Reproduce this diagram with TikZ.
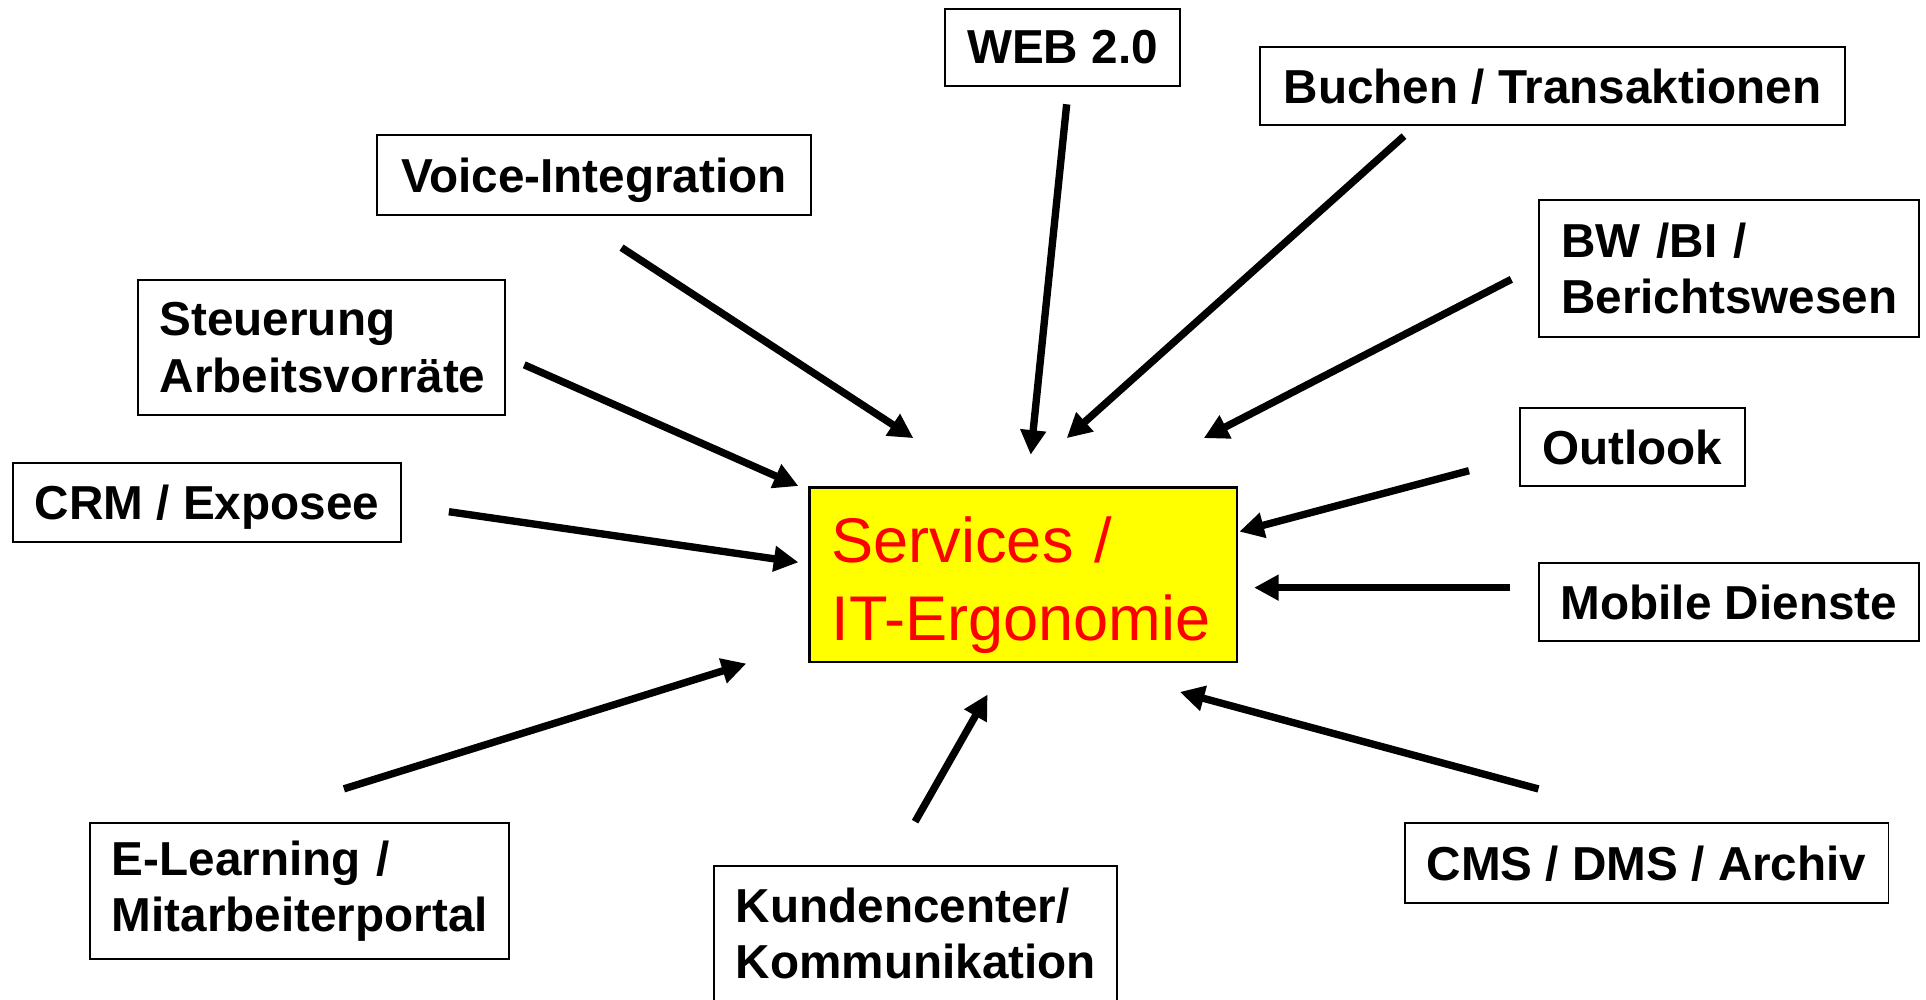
\documentclass[tikz,border=0pt]{standalone}
\usepackage{fontspec}
\setmainfont{Liberation Sans}
\usetikzlibrary{arrows.meta,calc}

\tikzset{
  topic/.style={draw=black, line width=0.8pt, fill=white, inner xsep=9pt, inner ysep=0pt,
    font=\bfseries\fontsize{19.4}{23}\selectfont},
  oneline/.style={topic, text depth=0pt},
  twoline/.style={topic, align=left},
  hubbox/.style={draw=black, line width=1pt, fill={rgb,255:red,255;green,255;blue,0},
    text={rgb,255:red,255;green,0;blue,0}, inner xsep=9pt, inner ysep=0pt,
    align=left, text depth=28.5pt, font=\fontsize{25.7}{31.5}\selectfont},
  feed/.style={line width=3pt, -{Triangle[length=10pt,width=10pt]}}
}

\begin{document}
\begin{tikzpicture}[x=0.5pt, y=-0.5pt]
  \useasboundingbox (0,0) rectangle (1568,814);

  % central topic
  \node[hubbox, minimum width=174pt, minimum height=71pt, text width=156pt] (hub) at (833,468)
    {Services /\\IT-Ergonomie};

  % surrounding topics
  \node[oneline, minimum width=95pt,    minimum height=31.5pt] (web)     at (865,38.5)   {WEB 2.0};
  \node[oneline, minimum width=238pt,   minimum height=32pt]   (buchen)  at (1264,70)    {Buchen / Transaktionen};
  \node[oneline, minimum width=176.5pt, minimum height=32.5pt] (voice)   at (483.5,142.5) {Voice-Integration};
  \node[twoline, minimum width=154.5pt, minimum height=55.5pt, text width=136.5pt] (bw) at (1407.5,218.5)
    {BW /BI /\\Berichtswesen};
  \node[twoline, minimum width=149.5pt, minimum height=55pt, text width=131.5pt] (steuer) at (261.5,283)
    {Steuerung\\Arbeitsvorräte};
  \node[oneline, minimum width=90pt,    minimum height=32pt]   (outlook) at (1329,364)   {Outlook};
  \node[oneline, minimum width=157.5pt, minimum height=32pt]   (crm)     at (168.5,409)  {CRM / Exposee};
  \node[oneline, minimum width=154.5pt, minimum height=32pt]   (mobile)  at (1407.5,490) {Mobile Dienste};
  \node[twoline, minimum width=170.5pt, minimum height=55.5pt, text width=152.5pt] (elearn) at (243.5,725.5)
    {E-Learning /\\Mitarbeiterportal};
  \node[twoline, minimum width=164pt, minimum height=55pt, text width=146pt] (kunden) at (745,760)
    {Kundencenter/\\Kommunikation};
  \node[oneline, minimum width=196.5pt, minimum height=32.5pt] (cms)     at (1340.5,702.5) {CMS / DMS / Archiv};

  % arrows: each starts a little off its topic and stops short of the central box
  \draw[feed] ($(voice.south)+(22.5,25.8)$)   -- ($(hub.north)+(-89.4,-39.3)$);
  \draw[feed] ($(web.south)+(3.4,14.1)$)      -- ($(hub.north)+(6.1,-25.8)$);
  \draw[feed] ($(buchen.south)+(-121,8)$)     -- ($(hub.north)+(35.4,-39.3)$);
  \draw[feed] ($(bw.west)+(-21.8,8.9)$)       -- ($(hub.north)+(147,-39.3)$);
  \draw[feed] ($(steuer.east)+(15,14)$)       -- ($(hub.north west)+(-8,-0.3)$);
  \draw[feed] ($(outlook.west)+(-41,19.2)$)   -- ($(hub.east)+(1,-35.2)$);
  \draw[feed] ($(crm.east)+(38,7.6)$)         -- ($(hub.west)+(-8,-10.2)$);
  \draw[feed] ($(mobile.west)+(-22.3,-11.6)$) -- ($(hub.east)+(13,10.4)$);
  \draw[feed] ($(elearn.north)+(36.5,-27)$)   -- ($(hub.south west)+(-50.4,0.2)$);
  \draw[feed] ($(kunden.north)+(0,-35.3)$)    -- ($(hub.south)+(-29,25.4)$);
  \draw[feed] ($(cms.north)+(-88,-26.9)$)     -- ($(hub.south)+(127.5,23.3)$);
\end{tikzpicture}
\end{document}
